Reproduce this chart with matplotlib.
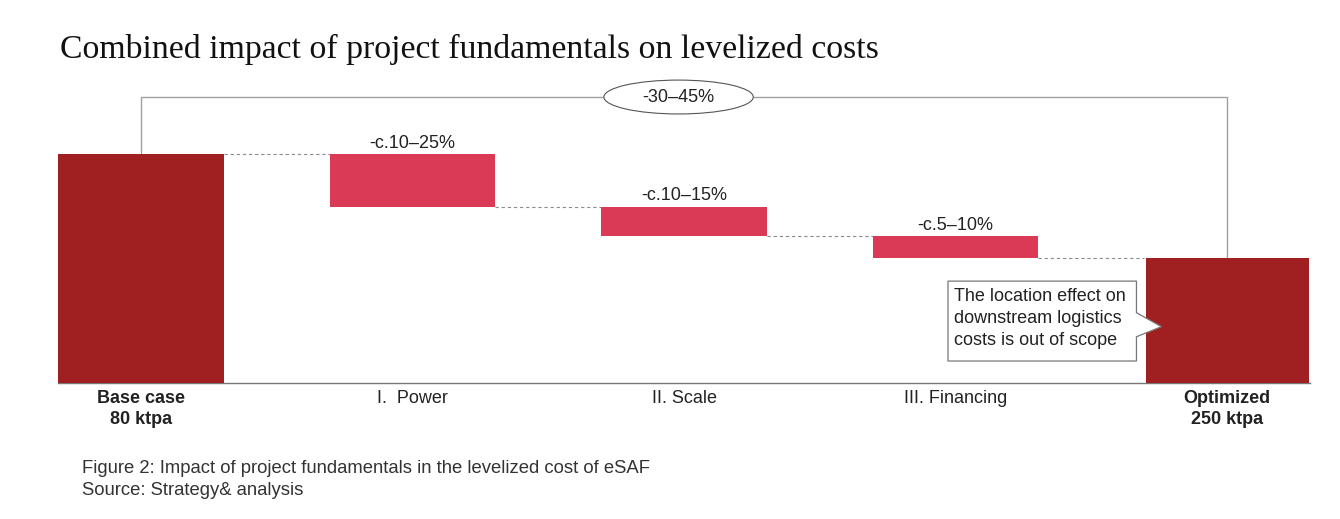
import matplotlib.pyplot as plt
from matplotlib.patches import Ellipse, Polygon

# values (base case = 100)
categories = ['Base case\n80 ktpa', 'I.  Power', 'II. Scale', 'III. Financing', 'Optimized\n250 ktpa']
base_value = 100
drops = [23.0, 13.0, 9.5]
drop_labels = ['-c.10–25%', '-c.10–15%', '-c.5–10%']
total_label = '-30–45%'
note = 'The location effect on\ndownstream logistics\ncosts is out of scope'
caption = 'Figure 2: Impact of project fundamentals in the levelized cost of eSAF\nSource: Strategy& analysis'

dark_red = '#A01F21'
pink = '#DA3A56'
grey = '#8C8C8C'

fig = plt.figure(figsize=(13.4, 5.19), dpi=100)
ax = fig.add_axes([58 / 1340, (519 - 383) / 519, 1252 / 1340, (383 - 70) / 519])
ax.set_xlim(-0.305, 4.305)
ax.set_ylim(0, 136.7)
w = 0.61

# running levels
levels = [base_value]
for d in drops:
    levels.append(levels[-1] - d)
final_value = levels[-1]

ax.bar(0, base_value, width=w, color=dark_red, zorder=3)
for i, d in enumerate(drops):
    ax.bar(i + 1, d, bottom=levels[i + 1], width=w, color=pink, zorder=3)
    ax.text(i + 1, levels[i] + 1.0, drop_labels[i], ha='center', va='bottom',
            fontsize=13, family='Liberation Sans', color='#222222')
ax.bar(4, final_value, width=0.6, color=dark_red, zorder=3)

# dashed connectors
for i in range(4):
    ax.plot([i + w / 2, i + 1 - w / 2], [levels[i], levels[i]], ls=(0, (3, 2.5)),
            lw=0.8, color=grey, zorder=2)

# bracket across the top
top = 124.9
ax.plot([0, 0, 4, 4], [base_value, top, top, final_value], color='#A0A0A0', lw=1, zorder=1)
ell = Ellipse((1.98, top), width=0.55, height=14.8, facecolor='white',
              edgecolor='#555555', lw=0.8, zorder=4)
ax.add_patch(ell)
ax.text(1.98, top, total_label, ha='center', va='center', fontsize=13,
        family='Liberation Sans', color='#222222', zorder=5)

# callout box
x0, x1 = 2.972, 3.666
y0, y1 = 9.6, 44.5
callout = Polygon([(x0, y0), (x0, y1), (x1, y1), (x1, 30.7), (3.758, 24.6),
                   (x1, 20.2), (x1, y0)], closed=True, facecolor='white',
                  edgecolor='#777777', lw=0.9, zorder=6)
ax.add_patch(callout)
ax.text(2.994, 41.3, note, ha='left', va='top', fontsize=13, linespacing=1.36,
        family='Liberation Sans', color='#222222', zorder=7)

for s in ['top', 'right', 'left']:
    ax.spines[s].set_visible(False)
ax.spines['bottom'].set_color('#777777')
ax.spines['bottom'].set_linewidth(1)
ax.set_yticks([])
ax.set_xticks(range(5))
ax.set_xticklabels(categories, fontsize=13, family='Liberation Sans', color='#222222',
                   linespacing=1.3)
ax.tick_params(axis='x', length=0, pad=5)
for i in (0, 4):
    ax.get_xticklabels()[i].set_fontweight('bold')

fig.text(60 / 1340, 1 - 58 / 519, 'Combined impact of project fundamentals on levelized costs',
         fontsize=24.3, family='Liberation Serif', color='#111111', va='baseline')
fig.text(82 / 1340, 1 - 460 / 519, caption, fontsize=13.3, family='Liberation Sans',
         color='#333333', va='top', linespacing=1.4)

fig.savefig('out.png', dpi=100)
